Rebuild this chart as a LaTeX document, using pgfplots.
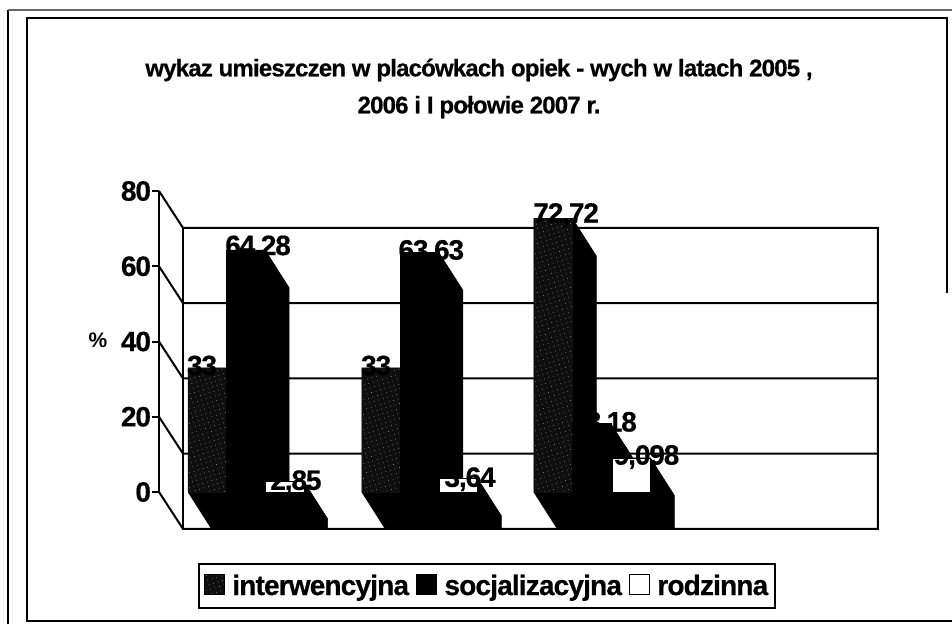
\documentclass[border=0pt]{standalone}
\usepackage{pgfplots}
\pgfplotsset{compat=1.18}
\usepackage{fontspec}
\setmainfont{Liberation Sans}
\usetikzlibrary{patterns.meta}
% geometry: front plane 695 x 301 px; depth vector (+24,+38) px
\pgfplotsset{
  side/.style={fill=black, draw=black, line width=0.5pt, forget plot},
  wall/.style={black, line width=2pt, forget plot},
}
\tikzset{speck/.style={pattern={Dots[radius=0.4pt,distance=4.7pt,angle=17]},pattern color=white!70!black}}
\begin{document}
\begin{tikzpicture}[x=1pt,y=1pt]
\useasboundingbox (0,0) rectangle (952,624);
% frames (page px: y measured from the top)
\draw[line width=2pt] (8,0) -- (8,614);
\draw[line width=1.5pt,black!60] (8,614) -- (952,614);
\draw[line width=2pt] (947,331) -- (947,606) -- (27,606) -- (27,3) -- (952,3);
\node[font=\fontsize{24}{37}\selectfont\bfseries\addfontfeatures{LetterSpace=-3.4,FakeBold=0.6}, align=center] at (479,535.5)
  {wykaz umieszczen w placówkach opiek - wych w latach 2005 ,\\2006 i I połowie 2007 r.};
\begin{axis}[
  at={(159pt,132pt)}, anchor=origin,
  scale only axis, width=695pt, height=301pt,
  xmin=0, xmax=4, ymin=0, ymax=80,
  axis x line=none, axis y line*=left,
  y axis line style={-, line width=2pt},
  clip=false,
  ytick={0,20,40,60,80},
  tick align=outside, major tick length=7pt,
  tick style={line width=2pt, black},
  /pgf/number format/assume math mode=true,
  yticklabel style={font=\fontsize{28}{28}\selectfont\bfseries\addfontfeatures{LetterSpace=-4,FakeBold=0.6}, xshift=2.5pt},
  ylabel={\%}, ylabel style={rotate=-90, font=\fontsize{21}{21}\selectfont\bfseries, at={(axis description cs:-0.088,0.505)}, anchor=center},
  legend style={at={(328pt,-56pt)}, anchor=center, draw=black, line width=2pt, legend columns=3,
    font=\fontsize{28}{28}\selectfont\bfseries\addfontfeatures{LetterSpace=-3,FakeBold=0.6},
    /tikz/every even column/.style={column sep=5pt},
    /tikz/every odd column/.style={column sep=5pt},
    inner xsep=5pt, inner ysep=9pt},
  area legend,
  legend image code/.code={\path[#1,line width=1pt] (0cm,-0.3cm) rectangle (0.72cm,0.4cm);},
  nodes near coords style={font=\fontsize{28}{28}\selectfont\bfseries\addfontfeatures{LetterSpace=-4,FakeBold=0.6}, text=black, anchor=center},
]
\addlegendimage{fill=black!94, postaction={speck}}
\addlegendimage{fill=black}
\addlegendimage{fill=white, draw=black}
\addlegendentry{interwencyjna}
\addlegendentry{socjalizacyjna}
\addlegendentry{rodzinna}
% back wall: floor at depth offset, gridlines at each value
\addplot[wall] coordinates {(0,80) (0.138,70.2) (4.138,70.2) (4.138,-9.8) (0.138,-9.8) (0,0)};
\addplot[wall] coordinates {(0.138,70.2) (0.138,-9.8)};
\addplot[wall] coordinates {(0,60) (0.138,50.2) (4.138,50.2)};
\addplot[wall] coordinates {(0,40) (0.138,30.2) (4.138,30.2)};
\addplot[wall] coordinates {(0,20) (0.138,10.2) (4.138,10.2)};
%%% group 1
\addplot[side] coordinates {(0.167,0) (0.305,-10) (0.527,-10) (0.527,23) (0.389,33) (0.167,33)} --cycle;
\addplot[ybar, bar width=38.6pt, bar shift=0pt, fill=black!94, draw=black!94, postaction={speck}, forget plot] coordinates {(0.278,33)};
\addplot[side] coordinates {(0.389,0) (0.527,-10) (0.749,-10) (0.749,54.28) (0.611,64.28) (0.389,64.28)} --cycle;
\addplot[ybar, bar width=38.6pt, bar shift=0pt, fill=black, draw=black, forget plot] coordinates {(0.5,64.28)};
\addplot[side] coordinates {(0.611,0) (0.749,-10) (0.971,-10) (0.971,-7.15) (0.833,2.85) (0.611,2.85)} --cycle;
\addplot[ybar, bar width=38.6pt, bar shift=0pt, fill=white, draw=black, forget plot] coordinates {(0.722,2.85)};
%%% group 2
\addplot[side] coordinates {(1.167,0) (1.305,-10) (1.527,-10) (1.527,23) (1.389,33) (1.167,33)} --cycle;
\addplot[ybar, bar width=38.6pt, bar shift=0pt, fill=black!94, draw=black!94, postaction={speck}, forget plot] coordinates {(1.278,33)};
\addplot[side] coordinates {(1.389,0) (1.527,-10) (1.749,-10) (1.749,53.63) (1.611,63.63) (1.389,63.63)} --cycle;
\addplot[ybar, bar width=38.6pt, bar shift=0pt, fill=black, draw=black, forget plot] coordinates {(1.5,63.63)};
\addplot[side] coordinates {(1.611,0) (1.749,-10) (1.971,-10) (1.971,-6.36) (1.833,3.64) (1.611,3.64)} --cycle;
\addplot[ybar, bar width=38.6pt, bar shift=0pt, fill=white, draw=black, forget plot] coordinates {(1.722,3.64)};
%%% group 3
\addplot[side] coordinates {(2.157,0) (2.295,-10) (2.517,-10) (2.517,62.72) (2.379,72.72) (2.157,72.72)} --cycle;
\addplot[ybar, bar width=38.6pt, bar shift=0pt, fill=black!94, draw=black!94, postaction={speck}, forget plot] coordinates {(2.268,72.72)};
\addplot[side] coordinates {(2.379,0) (2.517,-10) (2.739,-10) (2.739,8.18) (2.601,18.18) (2.379,18.18)} --cycle;
\addplot[ybar, bar width=38.6pt, bar shift=0pt, fill=black, draw=black, forget plot] coordinates {(2.49,18.18)};
\addplot[side] coordinates {(2.606,0) (2.744,-10) (2.966,-10) (2.966,-0.902) (2.828,9.098) (2.606,9.098)} --cycle;
\addplot[ybar, bar width=38.6pt, bar shift=0pt, fill=white, draw=black, forget plot] coordinates {(2.717,9.098)};
%%% data labels
\addplot[only marks, mark=none, forget plot, nodes near coords, point meta=explicit symbolic] coordinates {
 (0.2475,33.6)[33]
 (0.57,65)[64,28]
 (0.788,2.6)[2,85]
 (1.25,33.6)[33]
 (1.567,63.8)[63,63]
 (1.79,3.4)[3,64]
 (2.343,73.6)[72,72]
 (2.561,18.1)[18,18]
 (2.806,9.3)[9,098]
};
\end{axis}
\end{tikzpicture}
\end{document}
